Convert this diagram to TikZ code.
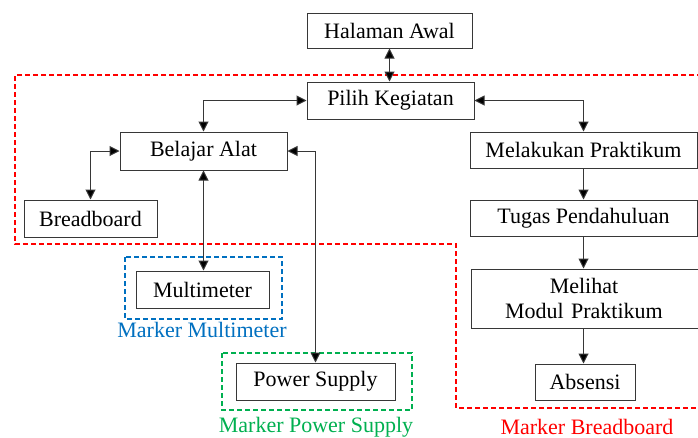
\documentclass[tikz,border=0pt]{standalone}
\usepackage{fontspec}
\setmainfont{Liberation Serif}
\usetikzlibrary{arrows.meta}
\definecolor{mblue}{RGB}{0,112,192}
\definecolor{mgreen}{RGB}{0,176,80}
\definecolor{edge}{RGB}{55,55,55}
\begin{document}
\begin{tikzpicture}[x=1pt,y=-1pt,
  box/.style={draw=edge,line width=1pt,inner sep=0pt,font=\fontsize{22}{25}\selectfont,align=center},
  conn/.style={line width=1pt,draw=edge,{Triangle[length=10pt,width=10pt,fill=black]}-{Triangle[length=10pt,width=10pt,fill=black]}},
  oneway/.style={line width=1pt,draw=edge,-{Triangle[length=10pt,width=10pt,fill=black]}},
  marker/.style={dashed,dash pattern=on 5pt off 3pt,line width=1.5pt},
  mlabel/.style={font=\fontsize{22}{25}\selectfont,inner sep=0pt}]
\useasboundingbox (0,0) rectangle (698,437);
\fill[white] (0,0) rectangle (698,437);
% red marker
\draw[marker,red] (702,75) -- (15,75) -- (15,244) -- (456,244) -- (456,408) -- (702,408);
% blue & green markers
\draw[marker,mblue] (125,257) rectangle (282,319);
\draw[marker,mgreen] (222,353) rectangle (412,410);
% nodes
\node[box,minimum width=165pt,minimum height=35pt] (halaman) at (389.5,30.5) {Halaman Awal};
\node[box,minimum width=167pt,minimum height=37pt] (pilih) at (390.5,100.5) {Pilih Kegiatan};
\node[box,minimum width=167pt,minimum height=38pt] (belajar) at (203.5,151) {Belajar Alat};
\node[box,minimum width=133pt,minimum height=37pt] (bread) at (90.5,218.5) {Breadboard};
\node[box,minimum width=227pt,minimum height=36pt] (melakukan) at (583.5,150) {Melakukan Praktikum};
\node[box,minimum width=227pt,minimum height=36pt] (tugas) at (583.5,218) {Tugas Pendahuluan};
\node[box,minimum width=236pt,minimum height=59pt,text width=226pt] (melihat) at (589,298.5) {\hspace*{-10pt}Melihat\\\hspace*{-10pt}Modul Praktikum};
\node[box,minimum width=100pt,minimum height=36pt] (absensi) at (585,382) {Absensi};
\node[box,minimum width=133pt,minimum height=37pt] (multi) at (202.5,289.5) {Multimeter};
\node[box,minimum width=159pt,minimum height=37pt] (power) at (315.5,381.5) {Power Supply};
% labels
\node[mlabel,text=mblue] (lmulti) at (202,330) {Marker Multimeter};
\node[mlabel,text=mgreen] (lpower) at (316,427) {Marker Power Supply};
\node[mlabel,text=red] (lbread) at (587,427) {Marker Breadboard};
% connectors
\draw[conn] (halaman.south) -- (halaman.south |- pilih.north);
\draw[conn] (pilih.west) -| (belajar.north);
\draw[conn] (pilih.east) -| (melakukan.north);
\draw[conn] (belajar.west) -| (bread.north);
\draw[conn] (multi.north -| belajar.south) -- (belajar.south);
\draw[conn] (belajar.east) -| (power.north);
\draw[oneway] (melakukan.south) -- (tugas.south |- tugas.north);
\draw[oneway] (tugas.south) -- (tugas.south |- melihat.north);
\draw[oneway] (melihat.south -| tugas.south) -- (tugas.south |- absensi.north);
\end{tikzpicture}
\end{document}
